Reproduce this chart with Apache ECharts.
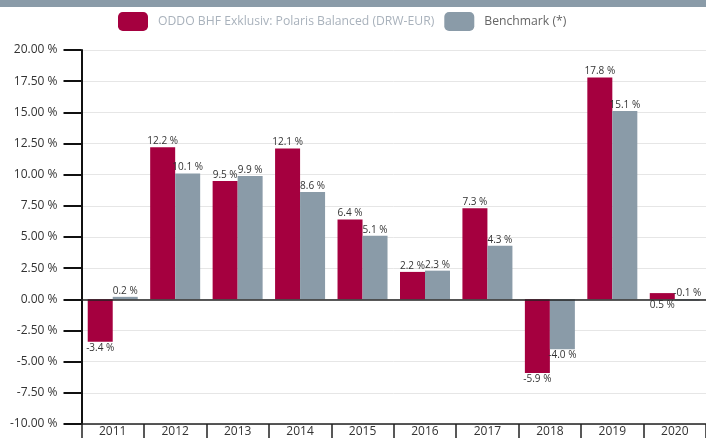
<!DOCTYPE html>
<html>
<head>
<meta charset="utf-8">
<script src="https://cdn.jsdelivr.net/npm/echarts@6/dist/echarts.min.js"></script>
<style>
  html, body { margin: 0; padding: 0; background: #fff; }
  #chart { width: 706px; height: 438px; }
</style>
</head>
<body>
<div id="chart"></div>
<script>
var years = ["2011", "2012", "2013", "2014", "2015", "2016", "2017", "2018", "2019", "2020"];
var fundName = "ODDO BHF Exklusiv: Polaris Balanced (DRW-EUR)";
var benchName = "Benchmark (*)";
var fundValues = [-3.4, 12.2, 9.5, 12.1, 6.4, 2.2, 7.3, -5.9, 17.8, 0.5];
var benchValues = [0.2, 10.1, 9.9, 8.6, 5.1, 2.3, 4.3, -4.0, 15.1, -0.1];

var fundColor = "#a5003f";
var benchColor = "#8a9ba8";
var font = "Open Sans";

function pct(v) { return v.toFixed(1) + " %"; }

// positive values labelled above, negative below; last pair swapped as in the source
function barData(values) {
    return values.map(function (v, i) {
        var pos = v < 0 ? "bottom" : "top";
        if (i === values.length - 1) pos = pos === "top" ? "bottom" : "top";
        return { value: v, label: { position: pos } };
    });
}

var labelStyle = {
    show: true, color: "#333", fontSize: 10, distance: 1,
    formatter: function (p) { return pct(p.value); }
};

var chart = echarts.init(document.getElementById("chart"));
chart.setOption({
    animation: false,
    textStyle: { fontFamily: font },
    graphic: [{
        type: "rect",
        left: 0, top: 0,
        shape: { width: 706, height: 7 },
        style: { fill: benchColor }
    }],
    legend: {
        top: 7,
        left: 113,
        itemWidth: 30,
        itemHeight: 19,
        itemGap: 10,
        icon: "roundRect",
        textStyle: { fontSize: 12.2, fontFamily: font, padding: [0, 0, 0, 5] },
        data: [
            { name: fundName, textStyle: { color: "#a9b2bc" } },
            { name: benchName, textStyle: { color: "#666" } }
        ]
    },
    grid: { left: 81.5, right: -3, top: 50, bottom: 14 },
    xAxis: {
        type: "category",
        data: years,
        axisLine: { onZero: false, lineStyle: { color: "#222", width: 1.5 } },
        axisTick: { show: true, length: 14, lineStyle: { color: "#222", width: 1.5 } },
        axisLabel: { color: "#333", fontSize: 12, margin: 2 }
    },
    yAxis: {
        type: "value",
        min: -10,
        max: 20,
        interval: 2.5,
        axisLine: { show: true, lineStyle: { color: "#111", width: 2 } },
        axisTick: { show: true, length: 18, lineStyle: { color: "#111", width: 2 } },
        axisLabel: {
            color: "#333", fontSize: 12, margin: 24,
            formatter: function (v) { return v.toFixed(2) + " %"; }
        },
        splitLine: { lineStyle: { color: "#e6e6e6" } }
    },
    series: [{
        name: fundName,
        type: "bar",
        z: 2,
        barWidth: 25,
        barGap: "0%",
        itemStyle: { color: fundColor },
        label: labelStyle,
        data: barData(fundValues),
        markLine: {
            silent: true,
            symbol: "none",
            label: { show: false },
            lineStyle: { color: "#222", width: 1.5, type: "solid" },
            data: [{ yAxis: 0 }]
        }
    }, {
        name: benchName,
        type: "bar",
        z: 3,
        barWidth: 25,
        itemStyle: { color: benchColor },
        label: labelStyle,
        data: barData(benchValues)
    }]
});
</script>
</body>
</html>
